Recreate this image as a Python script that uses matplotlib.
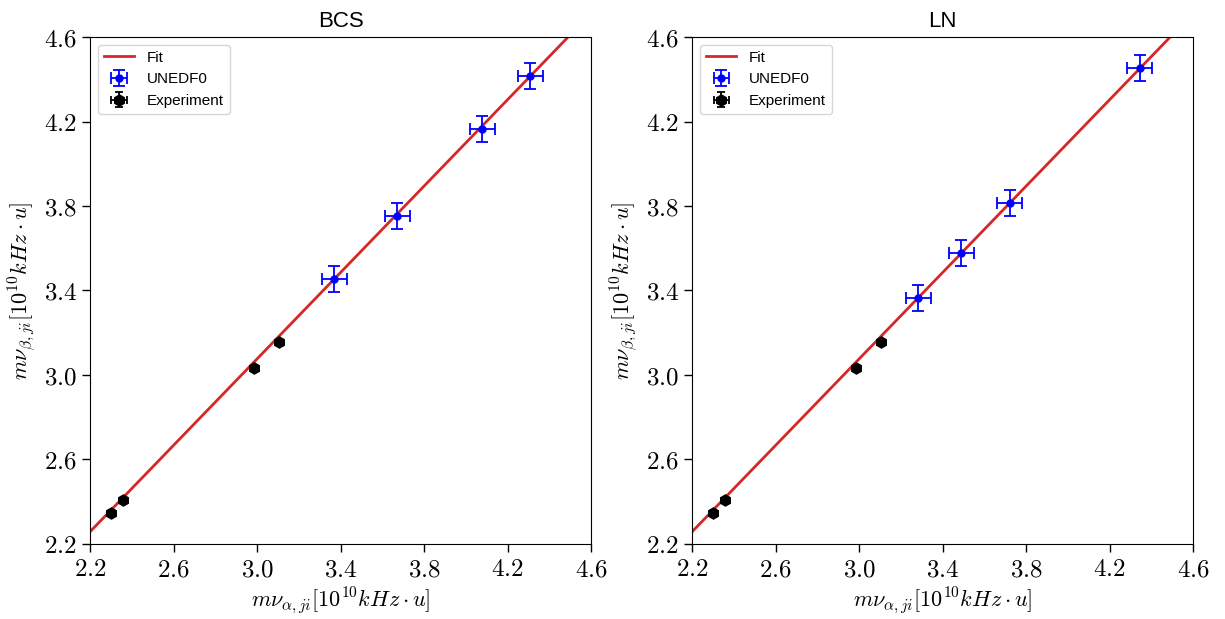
import numpy as np
import matplotlib
matplotlib.use("Agg")
import matplotlib.pyplot as plt
from matplotlib.ticker import FuncFormatter

plt.rcParams["mathtext.fontset"] = "cm"
plt.rcParams["font.family"] = ["Liberation Sans", "DejaVu Sans"]

# Experimental values (shared by both panels)
exp_x = [2.30, 2.358, 2.986, 3.105]
exp_y = [2.347, 2.408, 3.033, 3.156]
exp_xerr = 0.004
exp_yerr = 0.008

# UNEDF0 predictions for each pairing model
bcs_x = [3.369, 3.671, 4.078, 4.308]
bcs_y = [3.454, 3.753, 4.165, 4.416]
ln_x = [3.283, 3.489, 3.722, 4.345]
ln_y = [3.366, 3.576, 3.814, 4.452]
model_xerr = 0.06
model_yerr = 0.062

# Linear fit parameters
fit_slope = 1.0227
fit_intercept = 0.008

ticks = [2.2, 2.6, 3.0, 3.4, 3.8, 4.2, 4.6]
titles = ["BCS", "LN"]
panels = [(bcs_x, bcs_y), (ln_x, ln_y)]

fig = plt.figure(figsize=(12.25, 6.19), dpi=100)
axes = [fig.add_axes([0.0735, 0.1212, 0.409, 0.819]),
        fig.add_axes([0.565, 0.1212, 0.409, 0.819])]

fmt = FuncFormatter(lambda v, p: r"$%.1f$" % v)
xfit = np.linspace(2.2, 4.6, 50)

for ax, title, (mx, my) in zip(axes, titles, panels):
    ax.plot(xfit, fit_slope * xfit + fit_intercept, color="#d62728", lw=2, label="Fit", zorder=1)
    ax.errorbar(mx, my, xerr=model_xerr, yerr=model_yerr, fmt="o", color="blue",
                ms=5, capsize=4, elinewidth=1.3, capthick=1.3, label="UNEDF0", zorder=3)
    ax.errorbar(exp_x, exp_y, xerr=exp_xerr, yerr=exp_yerr, fmt="h", color="black",
                ms=8, capsize=3, elinewidth=1.3, capthick=1.3, label="Experiment", zorder=2)
    ax.set_xlim(2.2, 4.6)
    ax.set_ylim(2.2, 4.6)
    ax.set_xticks(ticks)
    ax.set_yticks(ticks)
    ax.xaxis.set_major_formatter(fmt)
    ax.yaxis.set_major_formatter(fmt)
    ax.tick_params(labelsize=18, length=6, width=1)
    ax.set_title(title, fontsize=16, pad=7)
    ax.set_xlabel(r"$m\nu_{\alpha,ji}[10^{10}kHz\cdot u]$", fontsize=16, labelpad=3)
    ax.set_ylabel(r"$m\nu_{\beta,ji}[10^{10}kHz\cdot u]$", fontsize=16)
    ax.legend(loc="upper left", fontsize=11)

fig.savefig("out.png", dpi=100)
